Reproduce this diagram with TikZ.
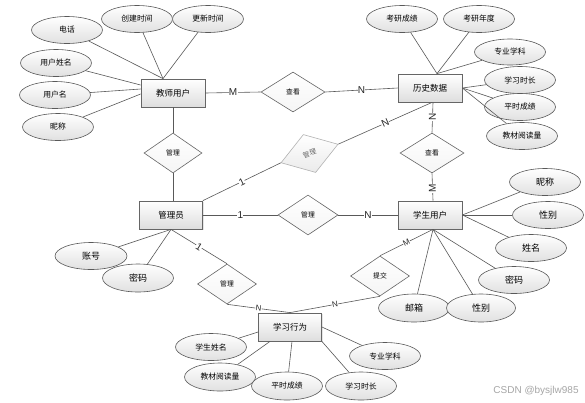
\documentclass[tikz,border=0pt]{standalone}
\usepackage{fontspec}
\newfontfamily\cjk{Noto Sans CJK SC}
\newfontfamily\lat{Liberation Sans}
\usetikzlibrary{shapes.geometric,shadows}
\tikzset{
  ent/.style={rectangle, draw=black!60, line width=0.8pt, top color=white, bottom color=black!13,
    minimum width=64pt, minimum height=28pt, inner sep=0pt,
    drop shadow={opacity=0.2, shadow xshift=1pt, shadow yshift=-1pt},
    font=\cjk\fontsize{8.5}{10}\selectfont},
  attr/.style={ellipse, draw=black!65, line width=0.6pt, top color=white, bottom color=black!12,
    minimum width=71pt, minimum height=27pt, inner sep=0pt,
    font=\cjk\fontsize{7.8}{9}\selectfont},
  attrb/.style={attr, font=\cjk\fontsize{9}{10}\selectfont},
  rel/.style={diamond, draw=black!60, line width=0.6pt, top color=white, bottom color=black!4,
    minimum width=60pt, minimum height=40pt, inner sep=0pt,
    font=\cjk\fontsize{6.8}{8}\selectfont},
  conn/.style={draw=black!65, line width=0.6pt},
  lbl/.style={fill=white, inner sep=0.3pt, font=\lat\fontsize{10}{10}\selectfont, text=black!85},
}
\begin{document}
\begin{tikzpicture}[x=1pt,y=-1pt]
\useasboundingbox[fill=white] (0,0) rectangle (585,402);

% entities
\node[ent] (teacher) at (173,93) {教师用户};
\node[ent] (hist) at (430,88) {历史数据};
\node[ent] (adm) at (171,215) [minimum width=63pt] {管理员};
\node[ent] (stu) at (430,215) {学生用户};
\node[ent] (learn) at (290,327) [minimum width=63pt] {学习行为};

% relations
\node[rel] (r1) at (293,92) [minimum width=64pt] {查看};
\node[rel] (r2) at (173,153) [minimum width=58pt] {管理};
\node[rel] (r3) at (432,153) [minimum width=64pt] {查看};
\node[rel] (r4) at (308,215) {管理};
\node[rel] (r5) at (380,276) [minimum width=59pt] {提交};
\node[rel] (r6) at (227,284) [minimum width=59pt] {管理};
\node[rel, rotate=18, draw=black!30, text=black!60, bottom color=black!8] (r7) at (309.5,153.5) {管理};

% teacher attributes
\node[attr] (t1) at (67,30) {电话};
\node[attr] (t2) at (137,19) {创建时间};
\node[attr] (t3) at (208,19) {更新时间};
\node[attr] (t4) at (56,63) {用户姓名};
\node[attr] (t5) at (55,95) {用户名};
\node[attr] (t6) at (58,127) {昵称};

% history attributes
\node[attr] (h1) at (402,19) {考研成绩};
\node[attr] (h2) at (479,19) {考研年度};
\node[attr] (h3) at (510,52) [minimum height=26pt] {专业学科};
\node[attr] (h4) at (520,80) {学习时长};
\node[attr] (h5) at (520,107) {平时成绩};
\node[attr] (h6) at (522,136) {教材阅读量};

% student attributes
\node[attrb] (s1) at (545,182) {昵称};
\node[attrb] (s2) at (548,215) {性别};
\node[attrb] (s3) at (531,248) {姓名};
\node[attrb] (s4) at (514,280) {密码};
\node[attrb] (s5) at (414,308) [minimum height=28pt] {邮箱};
\node[attrb] (s6) at (481,308) [minimum width=69pt, minimum height=28pt] {性别};

% admin attributes
\node[attrb] (a1) at (91,256) [minimum width=72pt] {账号};
\node[attrb] (a2) at (138,278) [minimum height=28pt] {密码};

% learning attributes
\node[attr] (l1) at (211,347) {学生姓名};
\node[attr] (l2) at (220,377) [minimum height=28pt] {教材阅读量};
\node[attr] (l3) at (287,386) [minimum height=28pt] {平时成绩};
\node[attr] (l4) at (361,386) [minimum height=28pt] {学习时长};
\node[attr] (l5) at (385,356) {专业学科};

% watermark
\node[font=\lat\fontsize{10}{10}\selectfont, text=black!35, inner sep=0pt] (wm) at (536,391) {CSDN @bysjlw985};

% attribute connectors
\foreach \a in {t1,t2,t3} \draw[conn] (\a) -- ([xshift=-10pt]teacher.north);
\draw[conn] (t4) -- ([yshift=8pt]teacher.west);
\draw[conn] (t5) -- ([yshift=4pt]teacher.west);
\draw[conn] (t6) -- ([yshift=-1pt]teacher.west);

\foreach \a in {h1,h2,h3} \draw[conn] (\a) -- ([xshift=7pt]hist.north);
\foreach \a in {h4,h5,h6} \draw[conn] (\a) -- (hist.east);

\foreach \a in {s1,s2,s3} \draw[conn] (\a) -- (stu.east);
\foreach \a in {s4,s5,s6} \draw[conn] (\a) -- ([xshift=3pt]stu.south);

\draw[conn] (a1) -- (adm.south);
\draw[conn] (a2) -- (adm.south);

\draw[conn] (l1) -- ([yshift=-5pt]learn.west);
\draw[conn] (l2) -- ([xshift=-20pt]learn.south);
\draw[conn] (l3) -- ([xshift=2pt]learn.south);
\draw[conn] (l4) -- (learn.south east);
\draw[conn] (l5) -- (learn.east);

% relationship connectors
\draw[conn] (teacher.east) -- node[lbl] (m1) {M} (r1.west);
\draw[conn] (r1.east) -- node[lbl] (n1) {N} (hist.west);
\draw[conn] (teacher.south) -- (r2.north);
\draw[conn] (r2.south) -- (r2.south |- adm.north);
\draw[conn] ([xshift=3pt]hist.south) -- node[lbl, pos=0.47, rotate=90] (n2) {N} (r3.north);
\draw[conn] (r3.south) -- node[lbl, pos=0.54, rotate=90] (m2) {M} ([xshift=3pt]stu.north);
\draw[conn] (adm.east) -- node[lbl] (o1) {1} (r4.west);
\draw[conn] (r4.east) -- node[lbl] (n3) {N} (stu.west);
\draw[conn] (adm.north east) -- node[lbl, sloped] (o2) {1} (r7.west);
\draw[conn] (r7.east) -- node[lbl, sloped] (n4) {N} ([xshift=2pt]hist.south);
\draw[conn] (adm.south) -- node[lbl, sloped] (o3) {1} (r6.north);
\draw[conn] (r6.south) -- node[lbl, sloped, font=\lat\fontsize{8}{8}\selectfont] (n5) {N} (learn.north);
\draw[conn] (r5.south) -- node[lbl, sloped, font=\lat\fontsize{8}{8}\selectfont] (n6) {N} (learn.north);
\draw[conn] (r5.north) -- node[lbl, sloped, font=\lat\fontsize{8}{8}\selectfont] (m3) {M} ([xshift=3pt]stu.south);
\end{tikzpicture}
\end{document}
